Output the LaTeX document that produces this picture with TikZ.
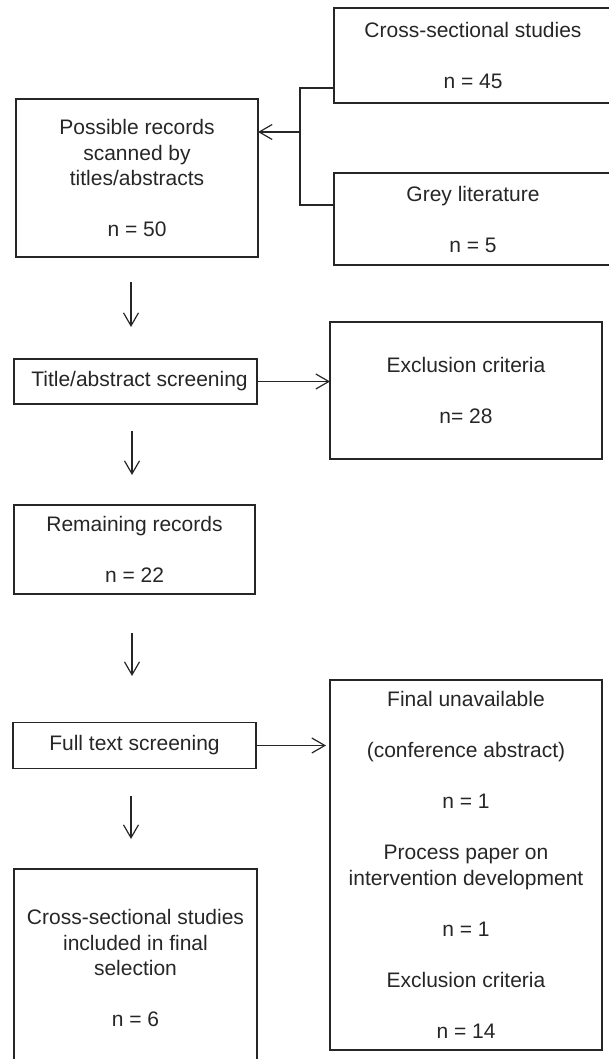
\documentclass[tikz,border=0pt]{standalone}
\usepackage{fontspec}
\setmainfont{Liberation Sans}
\usetikzlibrary{arrows.meta}
\begin{document}
\begin{tikzpicture}[x=1pt, y=-1pt, line width=1.2pt, color=black!85,
  box/.style={draw, align=center, inner sep=0pt, outer sep=0pt,
    font=\fontsize{21}{25.5}\selectfont},
  arr/.style={-{Straight Barb[length=13pt,width=15pt]}}]
\useasboundingbox (0,0) rectangle (609,1059);
\node[box, minimum width=278pt, minimum height=95pt] (cross) at (473,55.5) {Cross-sectional studies\\~\\n = 45};
\node[box, minimum width=278pt, minimum height=92pt] (grey) at (473,219) {Grey literature\\~\\n = 5};
\node[box, minimum width=242pt, minimum height=158pt] (poss) at (137,178) {Possible records\\scanned by\\titles/abstracts\\~\\n = 50};
\node[box, minimum width=243pt, minimum height=45pt] (title) at (135.5,381.5) {\hspace*{8pt}Title/abstract screening};
\node[box, minimum width=272pt, minimum height=137pt] (excl) at (466,390.5) {Exclusion criteria\\~\\n= 28};
\node[box, minimum width=241pt, minimum height=89pt] (remain) at (134.5,549.5) {Remaining records\\~\\n = 22};
\node[box, minimum width=243pt, minimum height=46pt] (full) at (134.5,745.5) {Full text screening};
\node[box, minimum width=272pt, minimum height=370pt] (final) at (466,865) {Final unavailable\\~\\(conference abstract)\\~\\n = 1\\~\\Process paper on\\intervention development\\~\\n = 1\\~\\Exclusion criteria\\~\\n = 14};
\node[box, minimum width=243pt, minimum height=198pt] (incl) at (135.5,968) {Cross-sectional studies\\included in final\\selection\\~\\n = 6};
% branch from the two sources
\coordinate (jt) at (300,88);
\coordinate (jb) at (300,205);
\coordinate (jm) at (300,132);
\draw (cross.west |- jt) -- (jt) -- (jb) -- (grey.west |- jb);
\draw[arr] (jm) -- (poss.east |- jm);
% downward steps
\coordinate (d1a) at (131,282);
\coordinate (d1b) at (131,327);
\coordinate (d2a) at (132,431);
\coordinate (d2b) at (132,475);
\coordinate (d3a) at (132,633);
\coordinate (d3b) at (132,676);
\coordinate (d4a) at (131,796);
\coordinate (d4b) at (131,839);
\draw[arr] (d1a) -- (d1b);
\draw[arr] (d2a) -- (d2b);
\draw[arr] (d3a) -- (d3b);
\draw[arr] (d4a) -- (d4b);
\draw[arr] (title.east) -- (excl.west |- title.east);
\draw[arr, shorten >=4pt] (full.east) -- (final.west |- full.east);
\end{tikzpicture}
\end{document}
